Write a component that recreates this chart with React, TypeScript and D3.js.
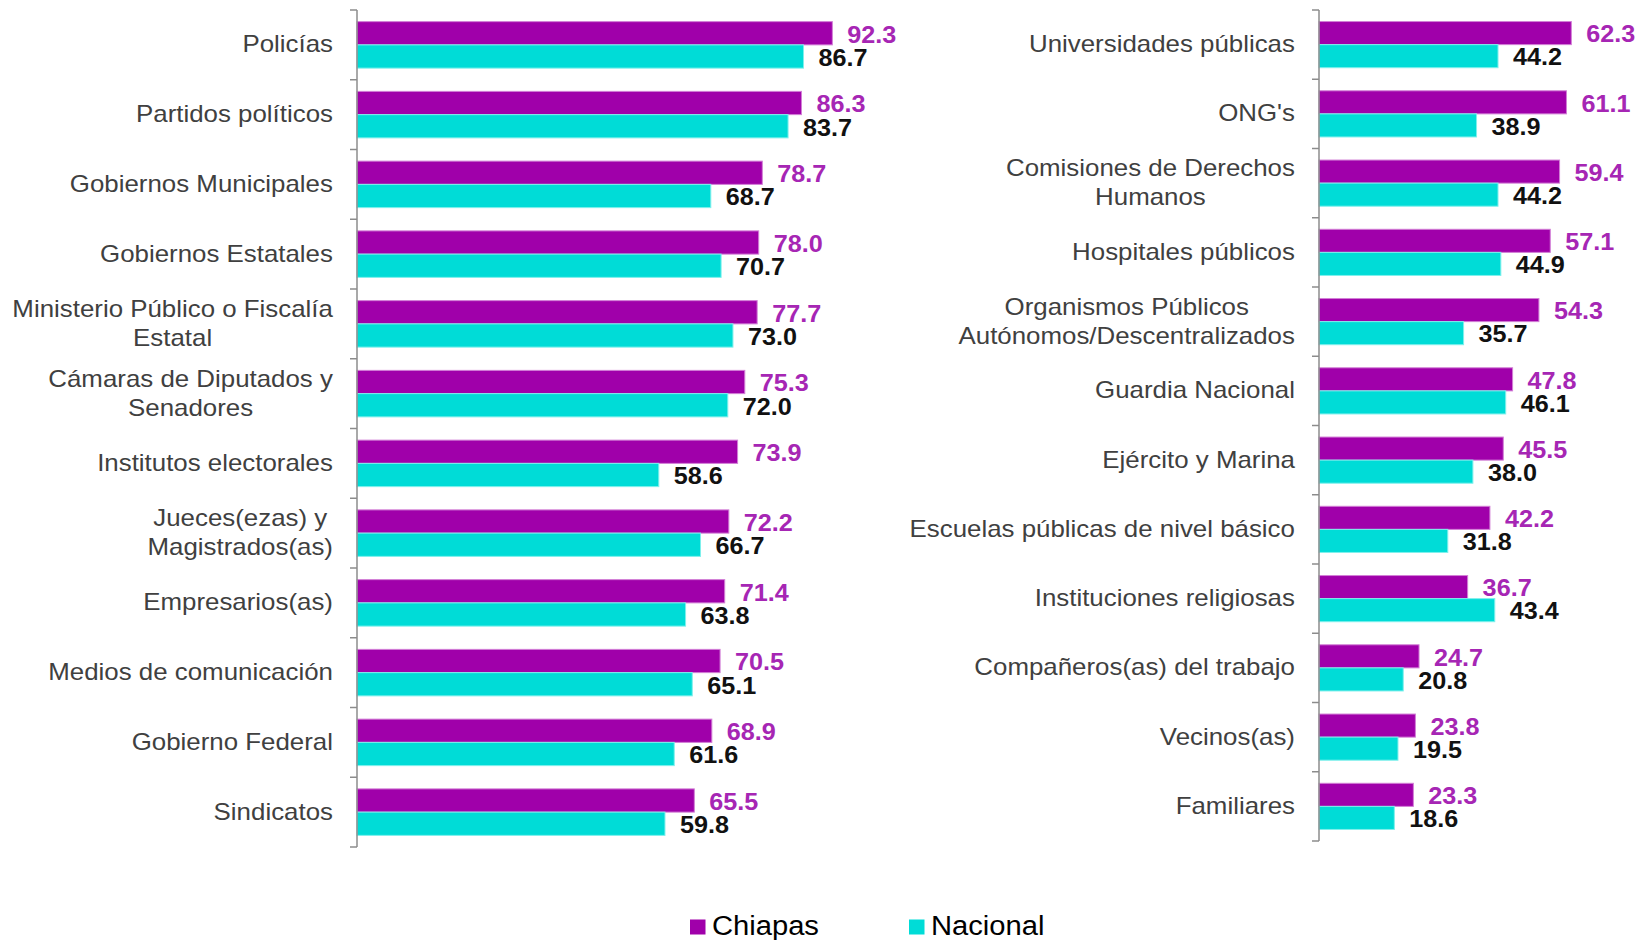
import React, { useEffect, useRef } from "react";
import * as d3 from "d3";

// left panel
const leftCategories = [
  "Policías",
  "Partidos políticos",
  "Gobiernos Municipales",
  "Gobiernos Estatales",
  "Ministerio Público o Fiscalía\nEstatal",
  "Cámaras de Diputados y\nSenadores",
  "Institutos electorales",
  "Jueces(ezas) y\nMagistrados(as)",
  "Empresarios(as)",
  "Medios de comunicación",
  "Gobierno Federal",
  "Sindicatos",
];
const leftChiapas = [92.3, 86.3, 78.7, 78.0, 77.7, 75.3, 73.9, 72.2, 71.4, 70.5, 68.9, 65.5];
const leftNacional = [86.7, 83.7, 68.7, 70.7, 73.0, 72.0, 58.6, 66.7, 63.8, 65.1, 61.6, 59.8];

// right panel
const rightCategories = [
  "Universidades públicas",
  "ONG's",
  "Comisiones de Derechos\nHumanos",
  "Hospitales públicos",
  "Organismos Públicos\nAutónomos/Descentralizados",
  "Guardia Nacional",
  "Ejército y Marina",
  "Escuelas públicas de nivel básico",
  "Instituciones religiosas",
  "Compañeros(as) del trabajo",
  "Vecinos(as)",
  "Familiares",
];
const rightChiapas = [62.3, 61.1, 59.4, 57.1, 54.3, 47.8, 45.5, 42.2, 36.7, 24.7, 23.8, 23.3];
const rightNacional = [44.2, 38.9, 44.2, 44.9, 35.7, 46.1, 38.0, 31.8, 43.4, 20.8, 19.5, 18.6];

const seriesNames = ["Chiapas", "Nacional"];
const barColors = ["#a000aa", "#00dcd7"];
const barStrokes = ["#d27fd6", "#7ff0ec"];
const labelColors = ["#a626b4", "#111111"];

const FONT = "'Liberation Sans', Arial, sans-serif";

const W = 1637;
const H = 940;

// text in the original is a little wider than Arial
const stretch = (sel: any, ax: number, sx: number) =>
  sel.attr("transform", `translate(${ax},0) scale(${sx},1) translate(${-ax},0)`);

const App = () => {
  const svgRef = useRef<SVGSVGElement>(null);

  useEffect(() => {
    document.body.style.margin = "0";
    const svg = d3.select(svgRef.current);
    svg.selectAll("*").remove();

    const panels = [
      { cats: leftCategories, a: leftChiapas, b: leftNacional, axisX: 357, xRange: [357, 872], yRange: [10, 847], gap: 24 },
      { cats: rightCategories, a: rightChiapas, b: rightNacional, axisX: 1319, xRange: [1319, 1724], yRange: [10, 841], gap: 24 },
    ];

    panels.forEach((p) => {
      const x = d3.scaleLinear().domain([0, 100]).range(p.xRange);
      const y = d3.scaleBand<string>().domain(p.cats).range(p.yRange as [number, number]).padding(0);
      const ySub = d3
        .scaleBand<string>()
        .domain(seriesNames)
        .range([0, y.bandwidth()])
        .paddingInner(0)
        .paddingOuter(0.5);

      const g = svg.append("g");

      const rows = p.cats.map((c, i) => ({ cat: c, vals: [p.a[i], p.b[i]] }));

      // bars
      rows.forEach((r) => {
        r.vals.forEach((v, si) => {
          const by = (y(r.cat) as number) + (ySub(seriesNames[si]) as number);
          g.append("rect")
            .attr("x", x(0))
            .attr("y", by)
            .attr("width", x(v) - x(0))
            .attr("height", ySub.bandwidth())
            .attr("fill", barColors[si])
            .attr("stroke", barStrokes[si])
            .attr("stroke-width", 1);
          const lx = x(v) + 15;
          const t = g
            .append("text")
            .attr("x", lx)
            .attr("y", by + ySub.bandwidth() / 2 + 1)
            .attr("dominant-baseline", "central")
            .attr("font-family", FONT)
            .attr("font-size", 24)
            .attr("font-weight", "bold")
            .attr("fill", labelColors[si])
            .text(v.toFixed(1));
          stretch(t, lx, 1.05);
        });
      });

      // axis line + ticks at band boundaries
      const axisColor = "#8c8c8c";
      g.append("line")
        .attr("x1", p.axisX)
        .attr("x2", p.axisX)
        .attr("y1", p.yRange[0])
        .attr("y2", p.yRange[1])
        .attr("stroke", axisColor)
        .attr("stroke-width", 1.5);
      const bounds = p.cats.map((c) => y(c) as number).concat([p.yRange[1]]);
      bounds.forEach((b) => {
        g.append("line")
          .attr("x1", p.axisX - 7)
          .attr("x2", p.axisX)
          .attr("y1", b)
          .attr("y2", b)
          .attr("stroke", axisColor)
          .attr("stroke-width", 1.5);
      });

      // category labels
      rows.forEach((r) => {
        const lines = r.cat.split("\n");
        const cy = (y(r.cat) as number) + y.bandwidth() / 2;
        const lh = 29;
        const rightEdge = p.axisX - p.gap;
        const t = g
          .append("text")
          .attr("font-family", FONT)
          .attr("font-size", 23)
          .attr("fill", "#404040")
          .attr("text-anchor", "middle");
        const spans = lines.map((ln, li) =>
          t
            .append("tspan")
            .attr("y", cy - 0.5 + (li - (lines.length - 1) / 2) * lh)
            .attr("dominant-baseline", "central")
            .text(ln)
        );
        const widths = spans.map((s) => (s.node() as SVGTSpanElement).getComputedTextLength());
        const maxW = d3.max(widths) || 0;
        spans.forEach((s) => s.attr("x", rightEdge - maxW / 2));
        stretch(t, rightEdge, 1.125);
      });
    });

    // legend
    const legend = svg.append("g");
    const legendX = [690, 909];
    seriesNames.forEach((name, i) => {
      legend
        .append("rect")
        .attr("x", legendX[i])
        .attr("y", 919.5)
        .attr("width", 15.5)
        .attr("height", 15)
        .attr("fill", barColors[i]);
      const tx = legendX[i] + 22;
      const t = legend
        .append("text")
        .attr("x", tx)
        .attr("y", 935)
        .attr("font-family", FONT)
        .attr("font-size", 27)
        .attr("fill", "#000")
        .text(name);
      stretch(t, tx, 1.08);
    });

    return () => {
      svg.selectAll("*").remove();
    };
  }, []);

  return <svg ref={svgRef} width={W} height={H} viewBox={`0 0 ${W} ${H}`} style={{ display: "block", background: "#fff" }} />;
};

export default App;
